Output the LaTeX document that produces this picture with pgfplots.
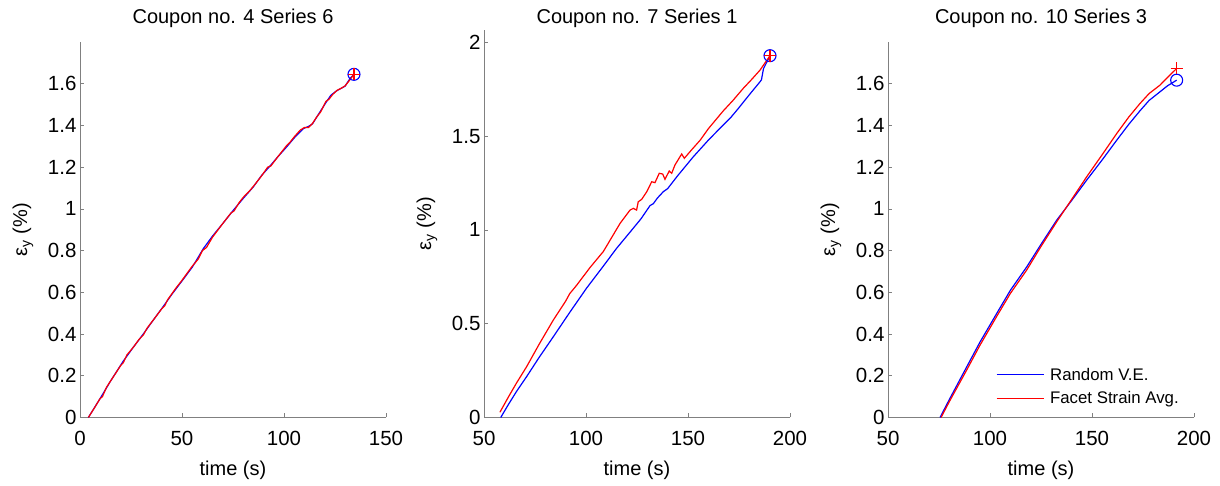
\documentclass[border=0pt]{standalone}
\usepackage{fontspec}
\setmainfont{Liberation Sans}
\usepackage{pgfplots}
\pgfplotsset{compat=1.18}

\definecolor{axgray}{RGB}{128,128,128}

\pgfplotsset{
  panel/.style={
    scale only axis,
    width=306pt,
    anchor=south west,
    axis x line*=bottom,
    axis y line*=left,
    axis line style={axgray, line width=0.6pt},
    tick style={axgray, line width=0.6pt},
    major tick length=4pt,
    tick align=inside,
    /pgf/number format/assume math mode=true,
    ticklabel style={font=\fontsize{20.5}{24}\selectfont},
    xticklabel style={anchor=center, yshift=-21pt},
    label style={font=\fontsize{20}{24}\selectfont},
    xlabel={time (s)},
    xlabel style={at={(axis description cs:0.5,0)}, anchor=center, yshift=-53pt},
    ylabel={ε\textsubscript{y} (\%)},
    ylabel style={at={(axis description cs:0,0.5)}, anchor=center, yshift=57pt},
    title style={font=\fontsize{20}{24}\selectfont, at={(axis description cs:0.5,1)}, anchor=center},
    clip=false,
  },
  vestyle/.style={blue, line width=1.2pt},
  fsstyle/.style={red, line width=1.2pt},
  vemark/.style={blue, mark=o, mark size=6pt, line width=1.1pt, only marks},
  fsmark/.style={red, mark=+, mark size=6pt, line width=1.1pt, only marks},
}

\begin{document}
\begin{tikzpicture}
\path[use as bounding box] (0,0) rectangle (1220pt,486pt);

% panel 1
\begin{axis}[panel, at={(80pt,68.5pt)}, height=375.5pt,
  xmin=0, xmax=150, ymin=0, ymax=1.8,
  xtick={0,50,100,150}, ytick={0,0.2,...,1.6},
  yticklabels={0,0.2,0.4,0.6,0.8,1,1.2,1.4,1.6},
  title={Coupon no. 4 Series 6}, title style={yshift=18pt}]
\addplot[vestyle] coordinates {
 (4.1,0) (9.8,0.09) (15,0.175) (21.2,0.27) (26,0.335) (31,0.4) (36,0.468)
 (40.8,0.532) (45,0.59) (49.8,0.652) (55,0.72) (60.5,0.81) (65,0.87) (70,0.93)
 (75.2,0.994) (80,1.05) (85,1.106) (89,1.16) (93.1,1.205) (97,1.25) (101.3,1.297)
 (105,1.34) (109.5,1.385) (112,1.395) (114,1.408) (117,1.455) (120.9,1.515)
 (123,1.545) (125.8,1.566) (129.9,1.588) (132.4,1.625) (134.3,1.645)};
\addplot[fsstyle] coordinates {
 (4.1,0) (7,0.045) (9.8,0.09) (11,0.1) (13,0.145) (15,0.175) (20,0.25) (21.2,0.262)
 (23,0.3) (26,0.335) (29,0.375) (31,0.395) (33,0.43) (36,0.468) (40,0.52)
 (41.5,0.535) (43,0.565) (47,0.62) (49.8,0.655) (55,0.725) (58,0.76) (60,0.8)
 (62,0.815) (65,0.865) (70,0.93) (74,0.98) (75.5,0.99) (78,1.03) (80,1.055)
 (83,1.085) (85,1.108) (89,1.158) (92,1.2) (93.5,1.205) (97,1.25) (101,1.3)
 (103,1.32) (105,1.345) (108,1.378) (110,1.39) (112,1.39) (114,1.41) (116,1.44)
 (118,1.465) (120.5,1.515) (122,1.525) (124,1.55) (126,1.568) (128,1.578)
 (130,1.59) (132,1.615) (134.3,1.645)};
\addplot[vemark] coordinates {(134.3,1.645)};
\addplot[fsmark] coordinates {(134.3,1.645)};
\end{axis}

% panel 2
\begin{axis}[panel, at={(484pt,68.5pt)}, height=387.5pt,
  xmin=50, xmax=200, ymin=0, ymax=2.066,
  xtick={50,100,150,200}, ytick={0,0.5,1,1.5,2},
  yticklabels={0,0.5,1,1.5,2},
  title={Coupon no. 7 Series 1}, title style={yshift=6pt}]
\addplot[vestyle] coordinates {
 (58.2,0) (62,0.07) (66,0.14) (70.9,0.218) (77,0.32) (84,0.431) (92,0.56)
 (100.3,0.69) (108,0.8) (115,0.902) (122.4,0.999) (127,1.06) (131.4,1.13)
 (133,1.14) (135,1.17) (137.9,1.204) (140,1.22) (145,1.29) (152.6,1.39)
 (160,1.479) (167.3,1.56) (171,1.6) (174.7,1.648) (180,1.72) (185.3,1.79)
 (186,1.8) (187,1.86) (190.2,1.929)};
\addplot[fsstyle] coordinates {
 (57.8,0.028) (62,0.11) (66,0.185) (70.9,0.271) (77,0.39) (84,0.52) (90,0.62)
 (92,0.66) (95.4,0.705) (102,0.8) (108.5,0.885) (116.7,1.035) (121.6,1.106)
 (123.2,1.115) (124.8,1.106) (125.6,1.15) (127.3,1.163) (129.8,1.204)
 (132.2,1.257) (133.8,1.252) (135.9,1.302) (137.6,1.298) (138.7,1.27)
 (140.8,1.314) (142,1.302) (143.6,1.346) (146.9,1.405) (148.2,1.382)
 (152,1.43) (156,1.479) (160,1.54) (167.3,1.635) (172,1.69) (177.1,1.755)
 (181,1.8) (185.3,1.852) (190.2,1.929)};
\addplot[vemark] coordinates {(190.2,1.929)};
\addplot[fsmark] coordinates {(190.2,1.929)};
\end{axis}

% panel 3
\begin{axis}[panel, at={(888pt,68.5pt)}, height=375.5pt,
  xmin=50, xmax=200, ymin=0, ymax=1.8,
  xtick={50,100,150,200}, ytick={0,0.2,...,1.6},
  yticklabels={0,0.2,0.4,0.6,0.8,1,1.2,1.4,1.6},
  title={Coupon no. 10 Series 3}, title style={yshift=18pt},
  legend cell align=left,
  legend image code/.code={\draw (0pt,0pt) -- (47pt,0pt);},
  legend style={draw=none, fill=none, font=\fontsize{16.8}{20}\selectfont,
    at={(axis description cs:0.352,0.138)}, anchor=north west,
    inner sep=0pt, row sep=6pt, column sep=4pt}]
\addplot[vestyle] coordinates {
 (75.5,0) (80,0.085) (88.6,0.243) (95,0.36) (103.3,0.499) (110,0.61) (118,0.722)
 (125,0.83) (132.7,0.946) (140,1.04) (147.4,1.138) (155,1.235) (162.1,1.329)
 (168,1.405) (173.5,1.47) (178,1.52) (183.3,1.561) (187,1.59) (191.5,1.617)};
\addlegendentry{Random V.E.}
\addplot[fsstyle] coordinates {
 (76,0) (80,0.075) (88.6,0.228) (95,0.345) (103.3,0.485) (110,0.595) (118,0.707)
 (125,0.82) (132.7,0.938) (140,1.045) (147.4,1.154) (155,1.26) (162.1,1.361)
 (168,1.44) (173.5,1.505) (178,1.553) (183.3,1.593) (187,1.63) (191.5,1.673)};
\addlegendentry{Facet Strain Avg.}
\addplot[vemark, forget plot] coordinates {(191.5,1.617)};
\addplot[fsmark, forget plot] coordinates {(191.5,1.673)};
\end{axis}
\end{tikzpicture}
\end{document}
